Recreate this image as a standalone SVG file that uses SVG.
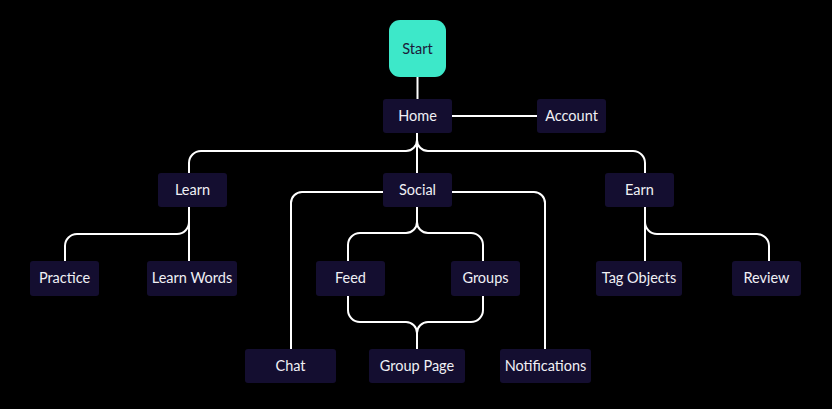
<svg xmlns="http://www.w3.org/2000/svg" width="832" height="409" viewBox="0 0 832 409">
<style>
.n{fill:#140e30}
.t{font-family:Lato,"Open Sans","Liberation Sans",sans-serif;font-size:14.5px;fill:#f0f0f5;text-anchor:middle;dominant-baseline:central}
.c{fill:none;stroke:#ffffff;stroke-width:2}
</style>
<rect width="832" height="409" fill="#000000"/>
<g id="connectors" class="c">
<path d="M417.5,77 V99"/>
<path d="M452,116 H537"/>
<path d="M417,133 V173"/>
<path d="M417,140 A11,11 0 0 1 406,151 H201 A12,12 0 0 0 189,163 V173"/>
<path d="M417,140 A11,11 0 0 0 428,151 H633 A12,12 0 0 1 645,163 V173"/>
<path d="M189,207 V261"/>
<path d="M189,222 A12,12 0 0 1 177,234 H77 A12,12 0 0 0 65,246 V261"/>
<path d="M645,207 V261"/>
<path d="M645,222 A12,12 0 0 0 657,234 H757 A12,12 0 0 1 769,246 V261"/>
<path d="M383,192 H302 A11,11 0 0 0 291,203 V349"/>
<path d="M452,192 H534 A11,11 0 0 1 545,203 V349"/>
<path d="M417,207 V222"/>
<path d="M417,222 A11,11 0 0 1 406,233 H360 A12,12 0 0 0 348,245 V261"/>
<path d="M417,222 A11,11 0 0 0 428,233 H471 A12,12 0 0 1 483,245 V261"/>
<path d="M348,296 V310 A12,12 0 0 0 360,322 H406 A11,11 0 0 1 417,333 V349"/>
<path d="M483,296 V310 A12,12 0 0 1 471,322 H428 A11,11 0 0 0 417,333"/>
</g>
<g id="start"><rect x="389" y="20" width="57" height="57" rx="11" fill="#3de8c9"/><text class="t" x="417.5" y="48.5" style="fill:#1c1a3a">Start</text></g>
<g id="home"><rect class="n" x="383" y="99" width="69" height="34" rx="3"/><text class="t" x="417.5" y="115.5">Home</text></g>
<g id="account"><rect class="n" x="537" y="99" width="69" height="34" rx="3"/><text class="t" x="571.5" y="115.5">Account</text></g>
<g id="learn"><rect class="n" x="158" y="173" width="69" height="34" rx="3"/><text class="t" x="192.5" y="189.5">Learn</text></g>
<g id="social"><rect class="n" x="383" y="173" width="69" height="34" rx="3"/><text class="t" x="417.5" y="189.5">Social</text></g>
<g id="earn"><rect class="n" x="605" y="173" width="69" height="34" rx="3"/><text class="t" x="639.5" y="189.5">Earn</text></g>
<g id="practice"><rect class="n" x="30" y="261" width="69" height="35" rx="3"/><text class="t" x="64.5" y="277.5">Practice</text></g>
<g id="learnwords"><rect class="n" x="147" y="261" width="90" height="35" rx="3"/><text class="t" x="192" y="277.5">Learn Words</text></g>
<g id="feed"><rect class="n" x="316" y="261" width="69" height="35" rx="3"/><text class="t" x="350.5" y="277.5">Feed</text></g>
<g id="groups"><rect class="n" x="451" y="261" width="69" height="35" rx="3"/><text class="t" x="485.5" y="277.5">Groups</text></g>
<g id="tagobjects"><rect class="n" x="596" y="261" width="86" height="35" rx="3"/><text class="t" x="639" y="277.5">Tag Objects</text></g>
<g id="review"><rect class="n" x="732" y="261" width="69" height="35" rx="3"/><text class="t" x="766.5" y="277.5">Review</text></g>
<g id="chat"><rect class="n" x="245" y="349" width="91" height="34" rx="3"/><text class="t" x="290.5" y="365.5">Chat</text></g>
<g id="grouppage"><rect class="n" x="369" y="349" width="96" height="34" rx="3"/><text class="t" x="417" y="365.5">Group Page</text></g>
<g id="notifications"><rect class="n" x="500" y="349" width="91" height="34" rx="3"/><text class="t" x="545.5" y="365.5">Notifications</text></g>
</svg>
